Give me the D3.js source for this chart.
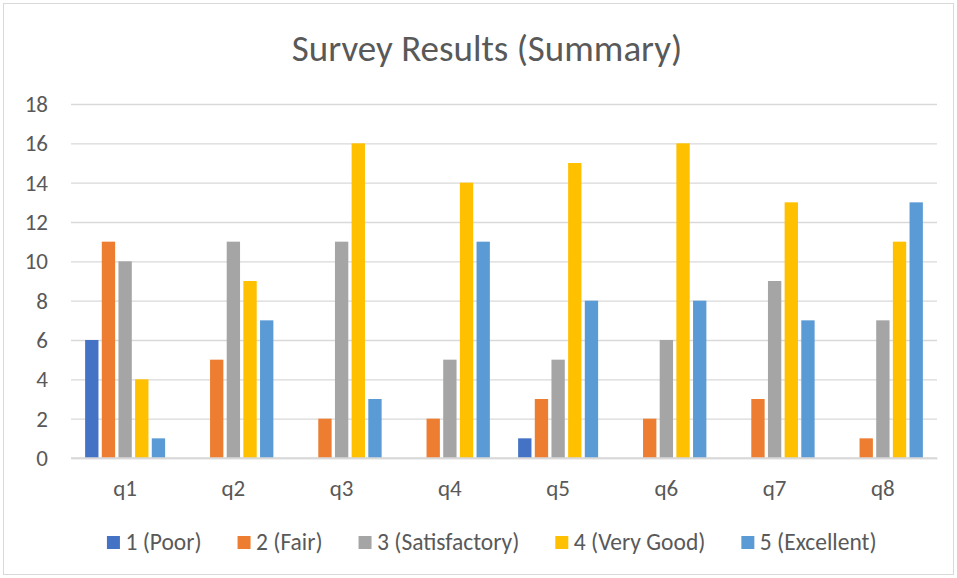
<!DOCTYPE html>
<html>
<head>
<meta charset="utf-8">
<script src="https://cdn.jsdelivr.net/npm/d3@7"></script>
<style>
  body { margin: 0; background: #fff; }
  text { font-family: Carlito, Lato, "Open Sans", sans-serif; fill: #595959; }
</style>
</head>
<body>
<div id="chart"></div>
<script>
var svgWidth = 957;
var svgHeight = 578;

var margin = { top: 104, right: 20, bottom: 120, left: 71 };
var width = 937 - margin.left;
var height = 458 - margin.top;

// Data
var categories = ["q1", "q2", "q3", "q4", "q5", "q6", "q7", "q8"];
var seriesNames = ["1 (Poor)", "2 (Fair)", "3 (Satisfactory)", "4 (Very Good)", "5 (Excellent)"];
var poor         = [6, 0, 0, 0, 1, 0, 0, 0];
var fair         = [11, 5, 2, 2, 3, 2, 3, 1];
var satisfactory = [10, 11, 11, 5, 5, 6, 9, 7];
var veryGood     = [4, 9, 16, 14, 15, 16, 13, 11];
var excellent    = [1, 7, 3, 11, 8, 8, 7, 13];
var yTicks = [0, 2, 4, 6, 8, 10, 12, 14, 16, 18];
var colors = ["#4472C4", "#ED7D31", "#A5A5A5", "#FFC000", "#5B9BD5"];

var seriesValues = [poor, fair, satisfactory, veryGood, excellent];

var svg = d3.select("#chart")
  .append("svg")
  .attr("width", svgWidth)
  .attr("height", svgHeight);

// chart border
svg.append("rect")
  .attr("x", 3.5).attr("y", 3.5)
  .attr("width", svgWidth - 7).attr("height", svgHeight - 7)
  .attr("fill", "none")
  .attr("stroke", "#D9D9D9");

svg.append("text")
  .attr("x", 487)
  .attr("y", 61)
  .attr("text-anchor", "middle")
  .attr("font-size", "37px")
  .attr("font-weight", 300)
  .text("Survey Results (Summary)");

var chartGroup = svg.append("g")
  .attr("transform", `translate(${margin.left}, ${margin.top})`);

var x0 = d3.scaleBand()
  .domain(categories)
  .range([0, width])
  .paddingInner(0.261)
  .paddingOuter(0.1305);

var x1 = d3.scaleBand()
  .domain(seriesNames)
  .range([0, x0.bandwidth()])
  .paddingInner(0.2);

var y = d3.scaleLinear()
  .domain([0, 18])
  .range([height, 0]);

// gridlines
var leftAxis = d3.axisLeft(y)
  .tickValues(yTicks)
  .tickSize(-width)
  .tickPadding(23);

var yAxisG = chartGroup.append("g").call(leftAxis);
yAxisG.attr("font-size", null).attr("font-family", null);
yAxisG.select(".domain").remove();
yAxisG.selectAll(".tick line").attr("stroke", "#D9D9D9").attr("stroke-width", 1.3);
yAxisG.selectAll(".tick text")
  .style("font-size", "23px")
  .attr("fill", "#595959");

var bottomAxis = d3.axisBottom(x0).tickSize(0).tickPadding(22);
var xAxisG = chartGroup.append("g")
  .attr("transform", `translate(0, ${height})`)
  .call(bottomAxis);
xAxisG.attr("font-size", null).attr("font-family", null);
xAxisG.select(".domain").attr("stroke", "#D9D9D9").attr("stroke-width", 1.3);
xAxisG.selectAll(".tick text")
  .style("font-size", "23px")
  .attr("fill", "#595959");

// bars
var groups = chartGroup.selectAll(".cat")
  .data(categories)
  .enter()
  .append("g")
  .attr("transform", d => `translate(${x0(d)}, 0)`);

groups.selectAll("rect")
  .data((d, i) => seriesNames.map((s, j) => ({ series: s, value: seriesValues[j][i], color: colors[j] })))
  .enter()
  .append("rect")
  .attr("x", d => x1(d.series))
  .attr("y", d => y(d.value))
  .attr("width", x1.bandwidth())
  .attr("height", d => height - y(d.value))
  .attr("fill", d => d.color);

// re-draw baseline on top of bars
chartGroup.append("line")
  .attr("x1", 0).attr("x2", width)
  .attr("y1", height).attr("y2", height)
  .attr("stroke", "#D9D9D9").attr("stroke-width", 1.3);

// legend
var legend = svg.append("g");
var lx = 0;
var gap = 36;
var items = legend.selectAll("g")
  .data(seriesNames)
  .enter()
  .append("g");

items.append("rect")
  .attr("width", 13).attr("height", 13)
  .attr("y", -14)
  .attr("fill", (d, i) => colors[i]);

items.append("text")
  .attr("x", 18.5)
  .attr("y", 0)
  .style("font-size", "23.5px")
  .text(d => d);

items.each(function() {
  var w = this.getBBox().width;
  d3.select(this).attr("transform", `translate(${lx}, 0)`);
  lx += w + gap;
});
lx -= gap;
legend.attr("transform", `translate(${(110.5 + 873) / 2 - lx / 2}, 550)`);
</script>
</body>
</html>
